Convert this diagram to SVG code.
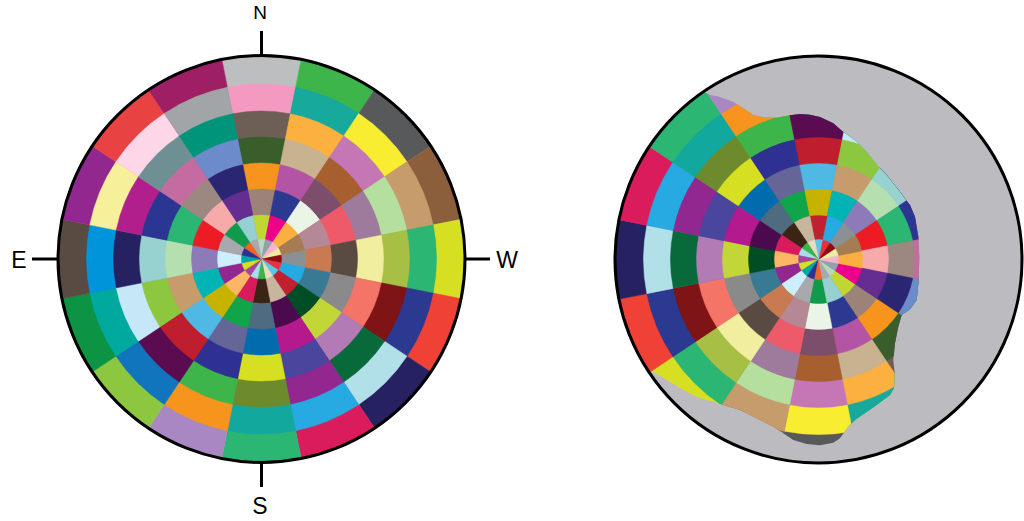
<svg xmlns="http://www.w3.org/2000/svg" xmlns:xlink="http://www.w3.org/1999/xlink" width="1024" height="521" viewBox="0 0 1024 521">
<style>
.c{fill:currentColor;stroke:currentColor;stroke-width:0.5;stroke-linejoin:bevel}
.rim{fill:none;stroke:#000;stroke-width:3}
.tick{stroke:#000;stroke-width:3;fill:none}
.lbl{font-family:"Liberation Sans",Arial,sans-serif;fill:#000;text-anchor:middle}
</style>
<defs>
<path id="w1" class="c" d="M0 0L-39.80-200.08A204 204 0 0 1 39.80-200.08Z"/>
<path id="w2" class="c" d="M0 0L-34.14-171.64A175 175 0 0 1 34.14-171.64Z"/>
<path id="w3" class="c" d="M0 0L-28.87-145.16A148 148 0 0 1 28.87-145.16Z"/>
<path id="w4" class="c" d="M0 0L-23.80-119.66A122 122 0 0 1 23.80-119.66Z"/>
<path id="w5" class="c" d="M0 0L-18.73-94.16A96 96 0 0 1 18.73-94.16Z"/>
<path id="w6" class="c" d="M0 0L-13.66-68.66A70 70 0 0 1 13.66-68.66Z"/>
<path id="w7" class="c" d="M0 0L-8.58-43.15A44 44 0 0 1 8.58-43.15Z"/>
<path id="w8" class="c" d="M0 0L-3.90-19.62A20 20 0 0 1 3.90-19.62Z"/>
<g id="ring1">
<use href="#w1" color="#bcbec0"/>
<use href="#w1" transform="rotate(22.5)" color="#3db54a"/>
<use href="#w1" transform="rotate(45)" color="#58595b"/>
<use href="#w1" transform="rotate(67.5)" color="#8b5e3c"/>
<use href="#w1" transform="rotate(90)" color="#d7df23"/>
<use href="#w1" transform="rotate(112.5)" color="#ef4136"/>
<use href="#w1" transform="rotate(135)" color="#262262"/>
<use href="#w1" transform="rotate(157.5)" color="#da1c5c"/>
<use href="#w1" transform="rotate(180)" color="#2bb673"/>
<use href="#w1" transform="rotate(202.5)" color="#a987c2"/>
<use href="#w1" transform="rotate(225)" color="#8dc63f"/>
<use href="#w1" transform="rotate(247.5)" color="#0c9444"/>
<use href="#w1" transform="rotate(270)" color="#594a42"/>
<use href="#w1" transform="rotate(292.5)" color="#92278f"/>
<use href="#w1" transform="rotate(315)" color="#e94242"/>
<use href="#w1" transform="rotate(337.5)" color="#9e1f63"/>
</g>
<g id="ring2">
<use href="#w2" color="#f49ac1"/>
<use href="#w2" transform="rotate(22.5)" color="#16a99c"/>
<use href="#w2" transform="rotate(45)" color="#f9ed32"/>
<use href="#w2" transform="rotate(67.5)" color="#c69c6d"/>
<use href="#w2" transform="rotate(90)" color="#2bb673"/>
<use href="#w2" transform="rotate(112.5)" color="#2b3990"/>
<use href="#w2" transform="rotate(135)" color="#b2e0e8"/>
<use href="#w2" transform="rotate(157.5)" color="#27aae1"/>
<use href="#w2" transform="rotate(180)" color="#13a89e"/>
<use href="#w2" transform="rotate(202.5)" color="#f7941d"/>
<use href="#w2" transform="rotate(225)" color="#1075bc"/>
<use href="#w2" transform="rotate(247.5)" color="#00a99d"/>
<use href="#w2" transform="rotate(270)" color="#0095da"/>
<use href="#w2" transform="rotate(292.5)" color="#f6f09a"/>
<use href="#w2" transform="rotate(315)" color="#fdd7e8"/>
<use href="#w2" transform="rotate(337.5)" color="#a1a5a8"/>
</g>
<g id="ring3">
<use href="#w3" color="#6d5f56"/>
<use href="#w3" transform="rotate(22.5)" color="#fbb040"/>
<use href="#w3" transform="rotate(45)" color="#c576b4"/>
<use href="#w3" transform="rotate(67.5)" color="#b5df9e"/>
<use href="#w3" transform="rotate(90)" color="#a8bf45"/>
<use href="#w3" transform="rotate(112.5)" color="#7f1416"/>
<use href="#w3" transform="rotate(135)" color="#08693a"/>
<use href="#w3" transform="rotate(157.5)" color="#92278f"/>
<use href="#w3" transform="rotate(180)" color="#6d8a2d"/>
<use href="#w3" transform="rotate(202.5)" color="#3db54a"/>
<use href="#w3" transform="rotate(225)" color="#5b0b4f"/>
<use href="#w3" transform="rotate(247.5)" color="#c6e7f7"/>
<use href="#w3" transform="rotate(270)" color="#262262"/>
<use href="#w3" transform="rotate(292.5)" color="#b11f8d"/>
<use href="#w3" transform="rotate(315)" color="#6f9093"/>
<use href="#w3" transform="rotate(337.5)" color="#00947a"/>
</g>
<g id="ring4">
<use href="#w4" color="#3a5e2b"/>
<use href="#w4" transform="rotate(22.5)" color="#c8b290"/>
<use href="#w4" transform="rotate(45)" color="#a75f2f"/>
<use href="#w4" transform="rotate(67.5)" color="#9e7a9c"/>
<use href="#w4" transform="rotate(90)" color="#f1ee9f"/>
<use href="#w4" transform="rotate(112.5)" color="#f47567"/>
<use href="#w4" transform="rotate(135)" color="#b27bb6"/>
<use href="#w4" transform="rotate(157.5)" color="#4b469d"/>
<use href="#w4" transform="rotate(180)" color="#d7df23"/>
<use href="#w4" transform="rotate(202.5)" color="#2e3192"/>
<use href="#w4" transform="rotate(225)" color="#be1e2d"/>
<use href="#w4" transform="rotate(247.5)" color="#8dc63f"/>
<use href="#w4" transform="rotate(270)" color="#97d2d1"/>
<use href="#w4" transform="rotate(292.5)" color="#2a3692"/>
<use href="#w4" transform="rotate(315)" color="#c46ca1"/>
<use href="#w4" transform="rotate(337.5)" color="#6c8bca"/>
</g>
<g id="ring5">
<use href="#w5" color="#f7941d"/>
<use href="#w5" transform="rotate(22.5)" color="#b454a4"/>
<use href="#w5" transform="rotate(45)" color="#7c4e6b"/>
<use href="#w5" transform="rotate(67.5)" color="#ef5a6b"/>
<use href="#w5" transform="rotate(90)" color="#594a42"/>
<use href="#w5" transform="rotate(112.5)" color="#8a8a8a"/>
<use href="#w5" transform="rotate(135)" color="#c2d737"/>
<use href="#w5" transform="rotate(157.5)" color="#b5198e"/>
<use href="#w5" transform="rotate(180)" color="#006cae"/>
<use href="#w5" transform="rotate(202.5)" color="#656598"/>
<use href="#w5" transform="rotate(225)" color="#50b9e3"/>
<use href="#w5" transform="rotate(247.5)" color="#c69c6d"/>
<use href="#w5" transform="rotate(270)" color="#b5dfaf"/>
<use href="#w5" transform="rotate(292.5)" color="#2bb673"/>
<use href="#w5" transform="rotate(315)" color="#9d8881"/>
<use href="#w5" transform="rotate(337.5)" color="#2a2671"/>
</g>
<g id="ring6">
<use href="#w6" color="#9b837a"/>
<use href="#w6" transform="rotate(22.5)" color="#2b3990"/>
<use href="#w6" transform="rotate(45)" color="#eaf5e8"/>
<use href="#w6" transform="rotate(67.5)" color="#b58896"/>
<use href="#w6" transform="rotate(90)" color="#c97a50"/>
<use href="#w6" transform="rotate(112.5)" color="#387a94"/>
<use href="#w6" transform="rotate(135)" color="#004d26"/>
<use href="#w6" transform="rotate(157.5)" color="#4b0a4e"/>
<use href="#w6" transform="rotate(180)" color="#4e6b80"/>
<use href="#w6" transform="rotate(202.5)" color="#10a54a"/>
<use href="#w6" transform="rotate(225)" color="#c7b200"/>
<use href="#w6" transform="rotate(247.5)" color="#00b3b4"/>
<use href="#w6" transform="rotate(270)" color="#8c7ab9"/>
<use href="#w6" transform="rotate(292.5)" color="#ed1c24"/>
<use href="#w6" transform="rotate(315)" color="#f6aaaa"/>
<use href="#w6" transform="rotate(337.5)" color="#662d91"/>
</g>
<g id="ring7">
<use href="#w7" color="#c1d631"/>
<use href="#w7" transform="rotate(22.5)" color="#ec008c"/>
<use href="#w7" transform="rotate(45)" color="#fbaf41"/>
<use href="#w7" transform="rotate(67.5)" color="#a67c52"/>
<use href="#w7" transform="rotate(90)" color="#8b9095"/>
<use href="#w7" transform="rotate(112.5)" color="#27aae1"/>
<use href="#w7" transform="rotate(135)" color="#c12031"/>
<use href="#w7" transform="rotate(157.5)" color="#c8b59e"/>
<use href="#w7" transform="rotate(180)" color="#3c2415"/>
<use href="#w7" transform="rotate(202.5)" color="#d91b5c"/>
<use href="#w7" transform="rotate(225)" color="#fdb665"/>
<use href="#w7" transform="rotate(247.5)" color="#92278f"/>
<use href="#w7" transform="rotate(270)" color="#cdeffd"/>
<use href="#w7" transform="rotate(292.5)" color="#a7a9ac"/>
<use href="#w7" transform="rotate(315)" color="#0f9b4b"/>
<use href="#w7" transform="rotate(337.5)" color="#96d0d0"/>
</g>
<g id="ring8">
<use href="#w8" color="#b7d9c2"/>
<use href="#w8" transform="rotate(22.5)" color="#8fa3a8"/>
<use href="#w8" transform="rotate(45)" color="#f6b3cf"/>
<use href="#w8" transform="rotate(67.5)" color="#efeba1"/>
<use href="#w8" transform="rotate(90)" color="#8b0e12"/>
<use href="#w8" transform="rotate(112.5)" color="#ed2f3c"/>
<use href="#w8" transform="rotate(135)" color="#5ec5e8"/>
<use href="#w8" transform="rotate(157.5)" color="#e8dcc0"/>
<use href="#w8" transform="rotate(180)" color="#39b54a"/>
<use href="#w8" transform="rotate(202.5)" color="#a5dde8"/>
<use href="#w8" transform="rotate(225)" color="#a3459a"/>
<use href="#w8" transform="rotate(247.5)" color="#d4e021"/>
<use href="#w8" transform="rotate(270)" color="#00a6a6"/>
<use href="#w8" transform="rotate(292.5)" color="#2e3192"/>
<use href="#w8" transform="rotate(315)" color="#f26522"/>
<use href="#w8" transform="rotate(337.5)" color="#a7a9ac"/>
</g>
<clipPath id="wave" clipPathUnits="userSpaceOnUse">
<polygon points="560,40 690,60 704,92 710,95 716.7,96 723.3,98.3 733.3,101.7 743.3,108.3 753.3,115 763.3,117.3 776.7,117.7 790,115.3 800,114 810,114.7 820,117 833.3,123.3 843.3,132 856.7,141.7 866.7,151.7 873.3,160 880,168.3 886.7,175 893.3,183.3 900,191.7 906,200 910,205 915,216.7 918.3,236.7 919.3,256.7 918.7,280 916.7,300 910,309.3 901.7,315 898.3,326.7 895,343.3 893.3,360 894.7,373.3 894,388.3 890,395 883.3,400 876.7,405 863.3,414.3 855,420 848.3,426.7 840,438.3 833.3,442.7 820,445.3 806.7,444 793.3,440 783.3,433.3 773.3,426.7 756.7,418.3 740,410 723.3,405 713.3,401.7 700,398.3 683.3,390 666.7,380 653.3,371.7 646.7,376.7 560,480"/>
</clipPath>
</defs>

<g id="sky-left">
<g transform="translate(261.5,259)">
<use href="#ring1"/><use href="#ring2"/><use href="#ring3"/><use href="#ring4"/>
<use href="#ring5"/><use href="#ring6"/><use href="#ring7"/><use href="#ring8"/>
</g>
<circle class="rim" cx="261.5" cy="259" r="203.5"/>
<line class="tick" x1="261.5" y1="31" x2="261.5" y2="55.5"/>
<line class="tick" x1="261.5" y1="462.5" x2="261.5" y2="487"/>
<line class="tick" x1="32" y1="259" x2="58" y2="259"/>
<line class="tick" x1="465" y1="259" x2="490" y2="259"/>
<text class="lbl" x="260" y="18.5" font-size="19">N</text>
<text class="lbl" x="19" y="267.5" font-size="23">E</text>
<text class="lbl" x="507" y="267.5" font-size="23">W</text>
<text class="lbl" x="260" y="514" font-size="23">S</text>
</g>

<g id="sky-right">
<circle cx="818.5" cy="259.5" r="203.5" fill="#bcbbc0"/>
<g clip-path="url(#wave)">
<g transform="translate(818.5,259.5)">
<use href="#ring1" transform="rotate(135)"/><use href="#ring2" transform="rotate(135)"/>
<use href="#ring3" transform="rotate(135)"/><use href="#ring4" transform="rotate(135)"/>
<use href="#ring5" transform="rotate(135)"/><use href="#ring6" transform="rotate(135)"/>
<use href="#ring7" transform="rotate(135) scale(-1,1)"/><use href="#ring8" transform="rotate(135) scale(-1,1)"/>
</g>
</g>
<circle class="rim" cx="818.5" cy="259.5" r="203.5"/>
</g>
</svg>
